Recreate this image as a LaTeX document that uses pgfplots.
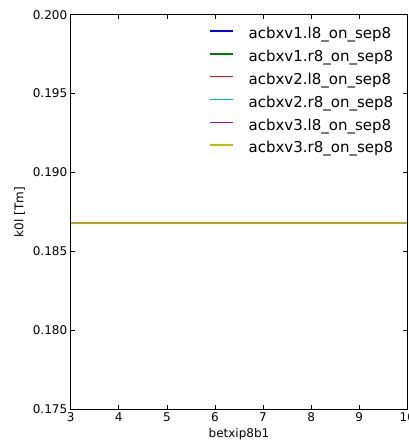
\documentclass[border=0pt]{standalone}
\usepackage{pgfplots}
\pgfplotsset{compat=1.18}
\usepackage{fontspec}
\setmainfont{DejaVu Sans}

\definecolor{lineblue}{RGB}{0,0,255}
\definecolor{linegreen}{RGB}{0,128,0}
\definecolor{linered}{RGB}{255,0,0}
\definecolor{linecyan}{RGB}{0,191,191}
\definecolor{linemagenta}{RGB}{191,0,191}
\definecolor{lineyellow}{RGB}{191,191,0}

\begin{document}
\begin{tikzpicture}[x=1pt,y=1pt]
\begin{axis}[
  name=ax, at={(0,0)}, anchor=south west,
  scale only axis, width=336.6pt, height=394.6pt,
  xmin=3, xmax=10, ymin=0.175, ymax=0.200,
  xtick={3,4,5,6,7,8,9,10},
  ytick={0.175,0.180,0.185,0.190,0.195,0.200},
  yticklabel style={/pgf/number format/.cd, fixed, fixed zerofill, precision=3},
  /pgf/number format/assume math mode=true,
  scaled y ticks=false,
  tick align=inside, major tick length=4pt,
  xtick pos=both, ytick pos=both,
  axis line style={line width=0.9pt},
  tick style={black, line width=0.7pt},
  ticklabel style={font=\fontsize{12}{14}\selectfont},
  label style={font=\fontsize{12}{14}\selectfont},
  xlabel={betxip8b1},
  xlabel style={at={(axis description cs:0.5,0)}, anchor=center, yshift=-24.7pt},
  ylabel={k0l [Tm]},
  ylabel style={at={(axis description cs:-0.152,0.5)}, anchor=center},
  legend style={draw=none, fill=none, at={(axis description cs:0.411,0.967)},
    anchor=north west, inner sep=0pt, row sep=8.3pt,
    font=\fontsize{15}{18}\selectfont,
    nodes={inner sep=0pt, text height=11pt, text depth=3.5pt},
    /tikz/every odd column/.style={column sep=15pt}},
  legend cell align=left,
  legend image code/.code={%
    \draw[#1, opacity=1, line width=1.4pt] (0pt,4pt) -- (23pt,4pt);},
]
% six circuits, identical constant k0l over the scan
\addplot[lineblue, line width=1.2pt] coordinates {(3,0.1868) (4,0.1868) (5,0.1868) (6,0.1868) (7,0.1868) (8,0.1868) (9,0.1868) (10,0.1868)};
\addlegendentry{acbxv1.l8\_on\_sep8}
\addplot[linegreen, line width=1.2pt] coordinates {(3,0.1868) (4,0.1868) (5,0.1868) (6,0.1868) (7,0.1868) (8,0.1868) (9,0.1868) (10,0.1868)};
\addlegendentry{acbxv1.r8\_on\_sep8}
\addplot[linered, line width=1.2pt] coordinates {(3,0.1868) (4,0.1868) (5,0.1868) (6,0.1868) (7,0.1868) (8,0.1868) (9,0.1868) (10,0.1868)};
\addlegendentry{acbxv2.l8\_on\_sep8}
\addplot[linecyan, line width=1.2pt] coordinates {(3,0.1868) (4,0.1868) (5,0.1868) (6,0.1868) (7,0.1868) (8,0.1868) (9,0.1868) (10,0.1868)};
\addlegendentry{acbxv2.r8\_on\_sep8}
\addplot[linemagenta, line width=1.2pt] coordinates {(3,0.1868) (4,0.1868) (5,0.1868) (6,0.1868) (7,0.1868) (8,0.1868) (9,0.1868) (10,0.1868)};
\addlegendentry{acbxv3.l8\_on\_sep8}
\addplot[lineyellow, line width=1.2pt, draw opacity=0.85] coordinates {(3,0.1868) (4,0.1868) (5,0.1868) (6,0.1868) (7,0.1868) (8,0.1868) (9,0.1868) (10,0.1868)};
\addlegendentry{acbxv3.r8\_on\_sep8}
\end{axis}
\pgfresetboundingbox
\path[use as bounding box] (-70.7,-34.7) rectangle (338.3,409.3);
\end{tikzpicture}
\end{document}
